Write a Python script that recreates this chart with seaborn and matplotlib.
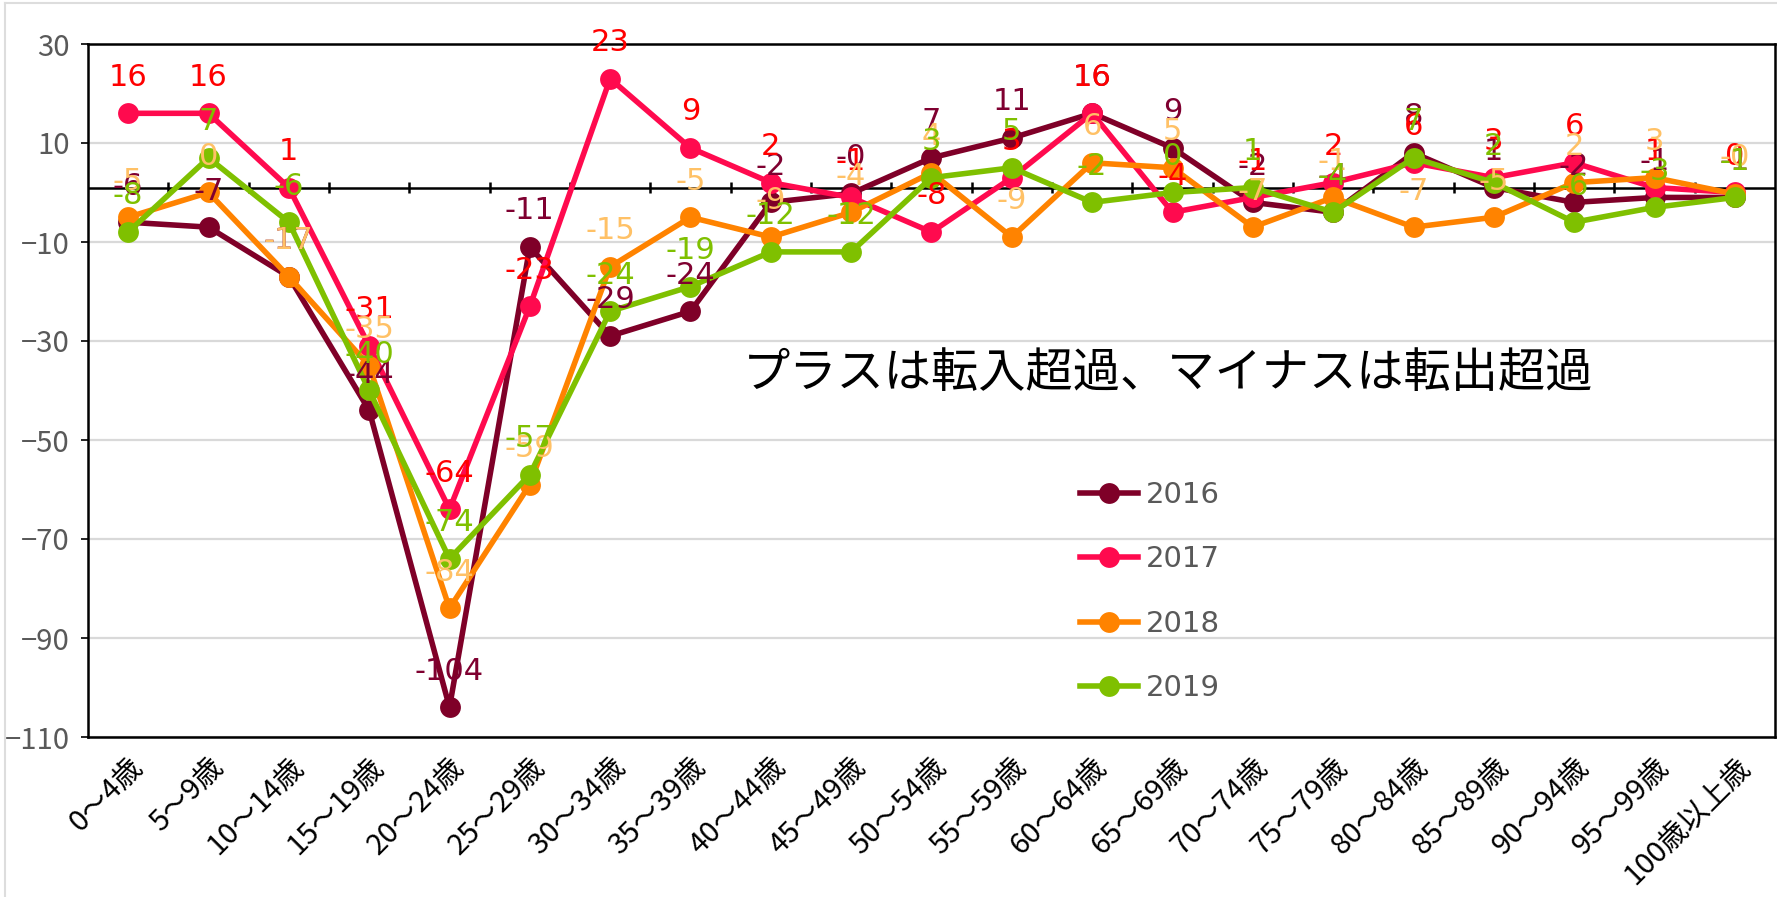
import numpy as np
import pandas as pd
import seaborn as sns
import matplotlib.pyplot as plt
from matplotlib.lines import Line2D

# 年齢階級別の転入超過数（プラス=転入超過、マイナス=転出超過）
ages = ["0～4歳", "5～9歳", "10～14歳", "15～19歳", "20～24歳", "25～29歳",
        "30～34歳", "35～39歳", "40～44歳", "45～49歳", "50～54歳", "55～59歳",
        "60～64歳", "65～69歳", "70～74歳", "75～79歳", "80～84歳", "85～89歳",
        "90～94歳", "95～99歳", "100歳以上歳"]
years = ["2016", "2017", "2018", "2019"]

v2016 = [-6, -7, -17, -44, -104, -11, -29, -24, -2, -0.2, 7, 11, 16, 9, -2, -4, 8, 1, -2, -1, -1]
v2017 = [16, 16, 1, -31, -64, -23, 23, 9, 2, -1, -8, 3, 16, -4, -1, 2, 6, 3, 6, 1, 0]
v2018 = [-5, 0, -17, -35, -84, -59, -15, -5, -9, -4, 4, -9, 6, 5, -7, -1, -7, -5, 2, 3, -0.3]
v2019 = [-8, 7, -6, -40, -74, -57, -24, -19, -12, -12, 3, 5, -2, 0, 1, -4, 7, 2, -6, -3, -1]

yticks = list(range(-110, 31, 20))

line_colors = {"2016": "#7F0028", "2017": "#FF0A4E", "2018": "#FF8300", "2019": "#7FC000"}
label_colors = {"2016": "#7F0030", "2017": "#FF0000", "2018": "#FFC166", "2019": "#7FC000"}

df = pd.DataFrame({
    "年齢": ages * 4,
    "値": v2016 + v2017 + v2018 + v2019,
    "年": [y for y in years for _ in ages],
})

fig = plt.figure(figsize=(17.77, 8.97), dpi=100)
ax = fig.add_axes([88 / 1777, 160 / 897, (1775 - 88) / 1777, (737 - 44) / 897])

# grid + zero line
for t in yticks:
    ax.axhline(t, color="#D9D9D9", lw=1.6, zorder=0)
ax.axhline(1, color="black", lw=1.8, zorder=1)
ax.vlines(np.arange(len(ages) - 1) + 0.5, -0.2, 2.2, color="black", lw=1.8, zorder=1)

sns.lineplot(data=df, x="年齢", y="値", hue="年", palette=line_colors,
             marker="o", markersize=15, linewidth=4, markeredgewidth=0,
             sort=False, errorbar=None, legend=False, ax=ax, zorder=3)

for y, vals in zip(years, [v2016, v2017, v2018, v2019]):
    for j, v in enumerate(vals):
        ax.annotate(f"{v:.0f}", (j, v), xytext=(0, 26), textcoords="offset points",
                    ha="center", va="center", fontsize=22, color=label_colors[y],
                    family=["DejaVu Sans"], zorder=6)

ax.set_xlim(-0.5, len(ages) - 0.5)
ax.set_ylim(-110, 30)
ax.set_yticks(yticks)
ax.set_xticks(range(len(ages)))
ax.set_xticklabels(ages, rotation=45, ha="right", rotation_mode="anchor",
                   fontsize=21, family=["Noto Sans CJK JP", "DejaVu Sans"])
ax.tick_params(axis="x", length=0, pad=11)
ax.tick_params(axis="y", length=5, width=1.2, color="black", labelsize=21,
               labelcolor="#595959", pad=8)
for lab in ax.get_yticklabels():
    lab.set_family(["Noto Sans CJK JP", "DejaVu Sans"])
ax.set_xlabel("")
ax.set_ylabel("")
for s in ax.spines.values():
    s.set_color("black")
    s.set_linewidth(1.8)
ax.set_facecolor("white")

leg = ax.legend(handles=ax.lines[-4:], labels=years, loc="upper left",
                bbox_to_anchor=(1080 / 1777, 1 - 481 / 897), bbox_transform=fig.transFigure,
                frameon=False, fontsize=21, handlelength=2.0, handletextpad=0.25,
                labelspacing=1.25, borderpad=0, borderaxespad=0)
for t in leg.get_texts():
    t.set_color("#595959")

fig.text(1168 / 1777, 1 - 374 / 897, "プラスは転入超過、マイナスは転出超過",
         ha="center", va="center", fontsize=34, color="black",
         family=["Noto Sans CJK JP", "DejaVu Sans"])

# faint outer frame of the original screenshot
fig.add_artist(Line2D([5 / 1777, 5 / 1777], [0, 1 - 3 / 897], transform=fig.transFigure,
                      color="#DDDDDD", lw=1.5))
fig.add_artist(Line2D([5 / 1777, 1], [1 - 3 / 897, 1 - 3 / 897], transform=fig.transFigure,
                      color="#DDDDDD", lw=1.5))

fig.savefig("out.png", dpi=100, facecolor="white")
